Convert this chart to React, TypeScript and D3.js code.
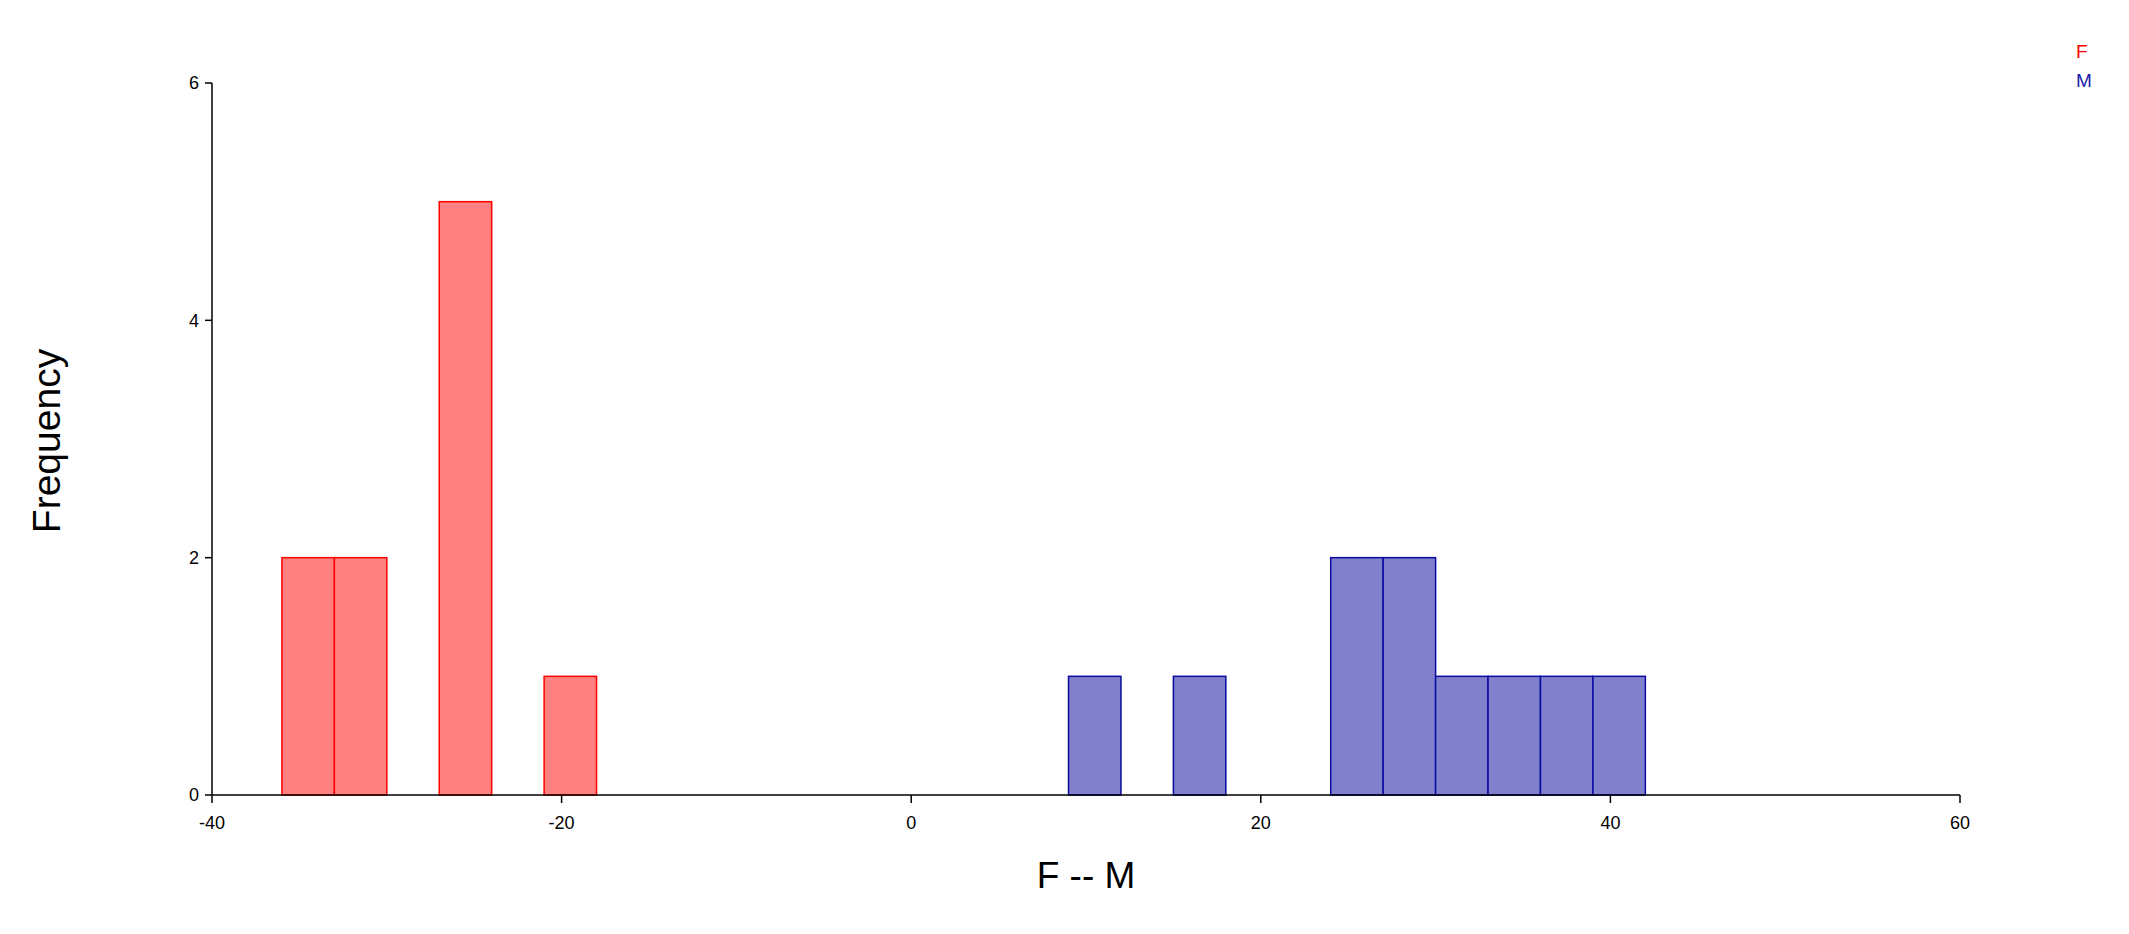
import React from "react";
import * as d3 from "d3";

const binWidth = 3;
const fBinStarts = [-36, -33, -27, -21];
const fCounts = [2, 2, 5, 1];
const mBinStarts = [9, 15, 24, 27, 30, 33, 36, 39];
const mCounts = [1, 1, 2, 2, 1, 1, 1, 1];
const xTicks = [-40, -20, 0, 20, 40, 60];
const yTicks = [0, 2, 4, 6];
const legendLabels = ["F", "M"];

const W = 2129;
const H = 934;
const FONT = "'Liberation Sans', Arial, sans-serif";

export default function App() {
  const x = d3.scaleLinear().domain([-40, 60]).range([212, 1960]);
  const y = d3.scaleLinear().domain([0, 6]).range([795, 83]);

  const series = [
    { starts: fBinStarts, counts: fCounts, fill: "#FF8080", stroke: "#FF0000" },
    { starts: mBinStarts, counts: mCounts, fill: "#8080CD", stroke: "#0A0A9E" },
  ];
  const legendColors = ["#FF0000", "#1A1AA6"];

  return (
    <svg
      width={W}
      height={H}
      style={{ position: "absolute", left: 0, top: 0, background: "#fff" }}
      fontFamily={FONT}
    >
      {series.map((s, si) =>
        s.starts.map((b, i) => (
          <rect
            key={`${si}-${i}`}
            x={x(b)}
            y={y(s.counts[i])}
            width={x(b + binWidth) - x(b)}
            height={y(0) - y(s.counts[i])}
            fill={s.fill}
            stroke={s.stroke}
            strokeWidth={1.5}
          />
        ))
      )}
      {/* x axis */}
      <line x1={x(-40)} x2={x(60)} y1={y(0)} y2={y(0)} stroke="#000" strokeWidth={1.5} />
      {xTicks.map((t) => (
        <g key={t}>
          <line x1={x(t)} x2={x(t)} y1={y(0)} y2={y(0) + 8} stroke="#000" strokeWidth={1.5} />
          <text x={x(t)} y={829} textAnchor="middle" fontSize={18} fill="#000">
            {t}
          </text>
        </g>
      ))}
      {/* y axis */}
      <line x1={x(-40)} x2={x(-40)} y1={y(0)} y2={y(6)} stroke="#000" strokeWidth={1.5} />
      {yTicks.map((t) => (
        <g key={t}>
          <line x1={x(-40) - 7} x2={x(-40)} y1={y(t)} y2={y(t)} stroke="#000" strokeWidth={1.5} />
          <text x={199} y={y(t)} dy="0.36em" textAnchor="end" fontSize={18} fill="#000">
            {t}
          </text>
        </g>
      ))}
      <text x={1086} y={888} textAnchor="middle" fontSize={37} fill="#000">
        F -- M
      </text>
      <text
        transform="translate(59.5,441) rotate(-90)"
        textAnchor="middle"
        fontSize={39}
        fill="#000"
      >
        Frequency
      </text>
      {legendLabels.map((l, i) => (
        <text key={l} x={2076} y={58 + i * 29} fontSize={19} fill={legendColors[i]}>
          {l}
        </text>
      ))}
    </svg>
  );
}
